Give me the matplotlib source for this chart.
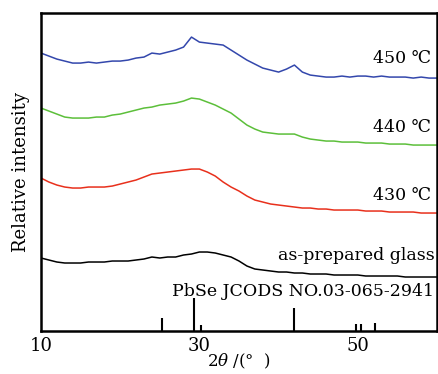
import matplotlib.pyplot as plt

plt.rcParams['font.family'] = ['DejaVu Serif', 'DejaVu Sans']
plt.rcParams['mathtext.fontset'] = 'dejavuserif'

two_theta = list(range(10, 61))

# relative intensity (arbitrary units, curves are offset)
y_450 = [278, 275, 272, 270, 268, 268, 269, 268, 269, 270, 270, 271, 273, 274, 278, 277,
         279, 281, 284, 294, 289, 288, 287, 286, 281, 276, 271, 267, 263, 261, 259, 262,
         266, 259, 256, 255, 254, 254, 255, 254, 255, 255, 254, 255, 254, 254, 254, 253,
         254, 253, 253]
y_440 = [223, 220, 217, 214, 213, 213, 213, 214, 214, 216, 217, 219, 221, 223, 224, 226,
         227, 228, 230, 233, 232, 229, 226, 222, 218, 212, 206, 202, 199, 198, 197, 197,
         197, 194, 192, 191, 190, 190, 189, 189, 189, 188, 188, 188, 187, 187, 187, 186,
         186, 186, 186]
y_430 = [153, 149, 146, 144, 143, 143, 144, 144, 144, 145, 147, 149, 151, 154, 157, 158,
         159, 160, 161, 162, 162, 159, 155, 149, 144, 140, 135, 131, 129, 127, 126, 125,
         124, 123, 123, 122, 122, 121, 121, 121, 121, 120, 120, 120, 119, 119, 119, 119,
         118, 118, 118]
y_glass = [73, 71, 69, 68, 68, 68, 69, 69, 69, 70, 70, 70, 71, 72, 74, 73, 74, 74, 76, 77,
           79, 79, 78, 76, 74, 70, 65, 62, 61, 60, 59, 59, 58, 58, 57, 57, 57, 56, 56, 56,
           56, 55, 55, 55, 55, 55, 54, 54, 54, 54, 54]

# PbSe reference pattern
ref_pos = [25.3, 29.3, 30.2, 42.0, 49.8, 50.4, 52.2]
ref_int = [13, 33, 6, 23, 7, 7, 8]

fig = plt.figure(figsize=(4.39, 3.74), dpi=100)
ax = fig.add_axes([0.0934, 0.115, 0.902, 0.85])

ax.plot(two_theta, y_450, color='#3347ac', lw=1.1)
ax.plot(two_theta, y_440, color='#5cbf3a', lw=1.1)
ax.plot(two_theta, y_430, color='#e8301c', lw=1.1)
ax.plot(two_theta, y_glass, color='black', lw=1.1)
ax.vlines(ref_pos, 0, ref_int, color='black', lw=1.5)

ax.text(59.2, 273, '450 ℃', ha='right', va='center', fontsize=12.5)
ax.text(59.2, 204, '440 ℃', ha='right', va='center', fontsize=12.5)
ax.text(59.2, 136, '430 ℃', ha='right', va='center', fontsize=12.5)
ax.text(59.7, 76, 'as-prepared glass', ha='right', va='center', fontsize=12.5)
ax.text(59.6, 40, 'PbSe JCODS NO.03-065-2941', ha='right', va='center', fontsize=12.5)

ax.set_xlim(10, 60)
ax.set_ylim(0, 318)
ax.set_xticks([10, 30, 50])
ax.set_yticks([])
ax.tick_params(axis='x', length=0, labelsize=13, pad=4)
for s in ax.spines.values():
    s.set_linewidth(1.8)

ax.set_xlabel(r'2$\theta$ /(°  )', fontsize=12, labelpad=-2)
ax.set_ylabel('Relative intensity', fontsize=13, labelpad=8)

fig.savefig('out.png', dpi=100)
